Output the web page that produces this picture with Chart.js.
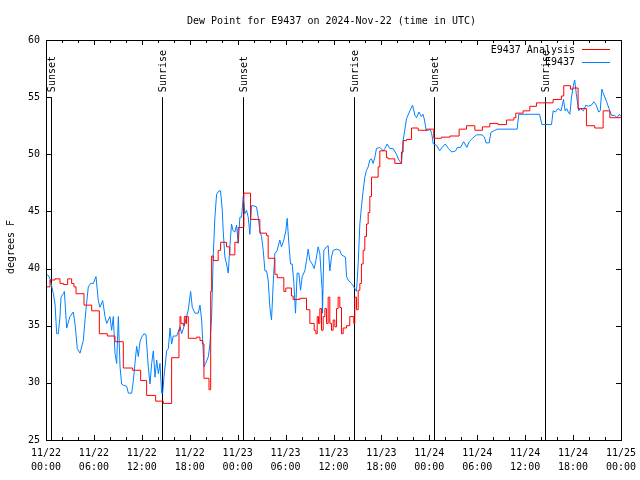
<!DOCTYPE html>
<html lang="en">
<head>
    <meta charset="UTF-8">
    <title>Dew Point for E9437</title>
    <script src="https://cdn.jsdelivr.net/npm/chart.js"></script>
    <style>
        body {
            margin: 0;
            background: #fff;
        }
        canvas {
            display: block;
        }
    </style>
</head>
<body>
    <canvas id="dewChart" width="640" height="480"></canvas>

    <script>
        // hours since 2024-11-22 00:00 UTC
        const obsHours = [0, 0.3, 0.5, 0.92, 1.13, 1.34, 1.54, 1.75, 1.88, 2.17, 2.3, 2.59, 3.0, 3.42, 3.63, 3.92, 4.26, 4.67, 5.0, 5.3,
            5.59, 5.93, 6.26, 6.55, 6.76, 7.1, 7.39, 7.6, 8.01, 8.22, 8.43, 8.64, 8.85, 9.06, 9.27, 9.47, 9.68, 10.1, 10.31, 10.73,
            10.94, 11.14, 11.35, 11.56, 11.77, 11.98, 12.27, 12.52, 12.81, 13.02, 13.23, 13.44, 13.65, 13.86, 14.07, 14.27, 14.48, 14.61, 14.77, 15.11,
            15.32, 15.53, 15.73, 15.94, 16.36, 16.78, 16.99, 17.4, 17.82, 18.11, 18.32, 18.66, 19.07, 19.28, 19.49, 19.78, 19.99, 20.33, 20.53, 20.74,
            20.95, 21.15, 21.36, 21.65, 21.86, 22.07, 22.19, 22.4, 22.61, 22.82, 23.02, 23.23, 23.44, 23.65, 23.86, 24.07, 24.28, 24.49, 24.69, 24.9,
            25.11, 25.32, 25.53, 25.74, 25.95, 26.36, 26.57, 26.78, 26.99, 27.2, 27.41, 27.61, 27.82, 28.03, 28.24, 28.45, 28.66, 28.95, 29.28, 29.49,
            29.78, 30.03, 30.2, 30.41, 30.62, 30.83, 31.04, 31.24, 31.45, 31.66, 31.87, 32.08, 32.41, 32.62, 32.83, 33.04, 33.33, 33.58, 33.79, 34.08,
            34.29, 34.58, 34.62, 34.79, 35.12, 35.33, 35.54, 35.75, 35.96, 36.38, 36.79, 37.0, 37.5, 37.63, 37.84, 38.25, 38.54, 38.88, 39.09, 39.3,
            39.5, 39.71, 39.92, 40.13, 40.34, 40.55, 40.76, 40.96, 41.17, 41.38, 41.8, 42.22, 42.43, 42.72, 43.05, 43.47, 43.89, 44.18, 44.51, 44.72,
            45.14, 45.56, 45.9, 46.2, 46.4, 46.7, 47.0, 47.2, 47.4, 47.6, 47.9, 48.1, 48.3, 48.5, 48.9, 49.3, 49.6, 50.0, 50.4, 50.8,
            51.3, 51.5, 51.9, 52.3, 52.7, 53.0, 53.4, 53.9, 54.6, 54.9, 55.1, 55.5, 55.7, 56.2, 56.5, 59.0, 59.2, 61.8, 62.1, 63.3,
            63.5, 63.8, 64.1, 64.5, 64.8, 65.0, 65.2, 65.4, 65.6, 65.8, 66.0, 66.2, 66.4, 66.7, 66.9, 67.3, 67.6, 67.9, 68.3, 68.6,
            68.9, 69.2, 69.4, 69.6, 69.8, 70.2, 70.6, 70.8, 71.2, 71.5, 71.8, 72.0];
        const obsDew = [39.5, 39.4, 39.1, 37.8, 36.9, 34.3, 34.3, 35.8, 37.5, 37.8, 38.0, 34.8, 35.8, 36.2, 35.2, 33.0, 32.6, 33.7, 36.4, 38.4,
            38.7, 38.7, 39.3, 37.2, 36.6, 37.2, 35.8, 35.2, 35.8, 34.6, 35.8, 32.6, 31.7, 35.8, 31.4, 29.9, 29.8, 29.7, 29.1, 29.1,
            30.2, 31.7, 33.2, 32.3, 33.6, 34.0, 34.3, 34.2, 31.4, 29.9, 31.7, 32.8, 30.5, 32.0, 30.8, 31.7, 29.1, 29.1, 30.5, 32.8,
            33.0, 34.8, 33.4, 34.1, 34.1, 34.9, 34.3, 35.2, 36.4, 38.0, 36.6, 36.1, 36.1, 36.8, 35.5, 31.4, 31.7, 32.3, 33.4, 35.8,
            41.3, 44.5, 46.5, 46.8, 46.8, 45.1, 43.3, 41.0, 40.4, 39.6, 41.9, 43.9, 43.3, 43.2, 43.8, 42.2, 44.5, 44.5, 46.3, 44.8,
            45.1, 44.5, 43.0, 45.5, 45.5, 45.4, 44.5, 43.3, 42.8, 41.6, 39.8, 39.8, 39.0, 36.6, 35.5, 38.7, 41.3, 41.6, 42.5, 41.9,
            42.5, 43.3, 44.4, 42.2, 40.4, 40.4, 38.7, 36.1, 39.6, 39.6, 38.1, 39.3, 39.8, 40.7, 41.7, 40.7, 40.4, 40.0, 40.7, 41.9,
            41.3, 38.1, 36.1, 41.6, 41.9, 42.0, 39.8, 41.0, 41.6, 41.7, 41.6, 41.2, 41.0, 39.3, 39.0, 38.7, 38.4, 38.0, 40.4, 43.9,
            45.4, 46.8, 48.0, 48.6, 48.9, 49.5, 49.6, 49.2, 49.7, 50.5, 50.6, 50.3, 50.5, 50.9, 50.5, 50.5, 50.0, 49.5, 49.2, 51.2,
            53.1, 53.8, 54.3, 53.4, 53.2, 53.7, 53.3, 53.5, 53.0, 52.1, 52.1, 52.2, 51.8, 50.9, 50.8, 50.3, 50.6, 50.9, 50.5, 50.2,
            50.3, 50.6, 50.6, 51.1, 50.6, 51.1, 51.4, 51.7, 51.7, 51.5, 51.0, 51.0, 51.9, 52.1, 52.2, 52.2, 53.5, 53.5, 52.6, 52.6,
            53.8, 53.7, 54.0, 53.8, 54.8, 53.8, 54.0, 53.7, 53.5, 55.0, 55.9, 56.5, 55.3, 53.8, 54.0, 53.8, 54.3, 54.2, 54.3, 54.6,
            54.3, 53.7, 53.8, 55.7, 55.3, 54.6, 53.8, 53.4, 53.4, 53.2, 53.5, 53.3];

        // analysis values, each held until the next hour in the list
        const anaHours = [0, 0.5, 1.13, 1.75, 2.17, 2.71, 3.21, 3.5, 3.76, 4.76, 5.72, 6.68, 7.68, 8.64, 9.68, 10.85, 11.85, 12.6, 13.73, 14.69,
            15.73, 16.65, 16.78, 16.9, 17.2, 17.32, 17.53, 17.61, 17.82, 18.86, 19.28, 19.62, 19.78, 20.41, 20.62, 20.74, 20.94, 21.56, 21.86, 22.61,
            23.02, 23.65, 24.07, 24.78, 25.61, 26.78, 27.61, 27.82, 28.66, 28.95, 29.78, 30.03, 30.74, 30.95, 31.79, 32.62, 33.04, 33.58, 33.79, 33.96,
            34.12, 34.29, 34.5, 34.71, 34.92, 35.12, 35.33, 35.54, 35.75, 35.96, 36.17, 36.38, 36.58, 36.79, 37.0, 37.21, 37.63, 38.04, 38.54, 38.67,
            38.88, 39.09, 39.3, 39.5, 39.71, 39.92, 40.13, 40.34, 40.55, 40.76, 41.59, 41.8, 42.63, 42.84, 43.68, 44.51, 44.72, 45.14, 45.77, 46.6,
            47.65, 48.56, 49.52, 50.57, 51.73, 52.65, 53.7, 54.65, 55.57, 56.6, 57.66, 58.58, 58.83, 59.74, 60.58, 61.41, 63.5, 64.54, 64.83, 65.67,
            66.0, 66.63, 67.67, 68.71, 69.76, 70.6, 72.0];
        const anaDew = [38.4, 39.0, 39.1, 38.7, 38.6, 39.1, 38.7, 38.4, 37.8, 36.8, 36.3, 34.3, 34.1, 33.6, 31.3, 31.1, 30.2, 28.9, 28.4, 28.2,
            32.2, 34.6, 35.8, 35.2, 35.0, 35.8, 35.2, 35.8, 33.9, 34.0, 33.7, 33.4, 30.4, 29.4, 38.0, 41.1, 40.7, 41.6, 42.3, 41.9,
            41.2, 42.3, 43.6, 46.6, 44.3, 43.1, 42.9, 40.9, 39.5, 39.2, 38.0, 38.3, 37.6, 37.3, 37.4, 36.4, 35.2, 34.6, 34.3, 35.8,
            35.2, 36.5, 34.6, 35.8, 36.5, 35.2, 37.5, 35.2, 34.6, 35.5, 34.9, 36.5, 37.5, 36.6, 34.3, 34.8, 35.0, 35.8, 35.2, 37.5,
            36.4, 38.1, 38.7, 40.4, 41.6, 42.8, 43.9, 44.9, 46.3, 48.0, 48.9, 50.3, 49.7, 49.6, 49.2, 50.2, 51.2, 51.3, 52.3, 52.1,
            52.2, 51.4, 51.5, 51.6, 52.2, 52.5, 52.1, 52.4, 52.7, 52.6, 53.0, 53.2, 53.6, 53.8, 54.2, 54.5, 54.8, 55.1, 56.0, 55.7,
            55.8, 54.0, 52.5, 52.3, 53.8, 53.2, 53.2];

        const dayLabels = ['11/22', '11/22', '11/22', '11/22', '11/23', '11/23', '11/23', '11/23', '11/24', '11/24', '11/24', '11/24', '11/25'];
        const timeLabels = ['00:00', '06:00', '12:00', '18:00'];

        const sunHours = [0.66, 14.56, 24.7, 38.6, 48.6, 62.5];
        const sunLabels = ['Sunset', 'Sunrise', 'Sunset', 'Sunrise', 'Sunset', 'Sunrise'];

        const FONT = '10px "DejaVu Sans Mono", monospace';

        // frame, inward ticks, sun lines, legend and texts in gnuplot style
        const gnuplotFrame = {
            id: 'gnuplotFrame',
            beforeDatasetsDraw(chart) {
                const ctx = chart.ctx;
                const x = chart.scales.x, y = chart.scales.y;
                const a = chart.chartArea;
                ctx.save();
                ctx.strokeStyle = '#000';
                ctx.lineWidth = 1;
                ctx.fillStyle = '#000';
                ctx.font = FONT;
                sunHours.forEach((h, i) => {
                    const px = Math.round(x.getPixelForValue(h)) + 0.5;
                    ctx.beginPath();
                    ctx.moveTo(px, y.getPixelForValue(55));
                    ctx.lineTo(px, a.bottom);
                    ctx.stroke();
                    ctx.save();
                    ctx.translate(px + 1, y.getPixelForValue(55) - 5);
                    ctx.rotate(-Math.PI / 2);
                    ctx.textAlign = 'left';
                    ctx.textBaseline = 'middle';
                    ctx.fillText(sunLabels[i], 0, 0);
                    ctx.restore();
                });
                ctx.restore();
            },
            afterDraw(chart) {
                const ctx = chart.ctx;
                const x = chart.scales.x, y = chart.scales.y;
                const a = chart.chartArea;
                ctx.save();
                ctx.strokeStyle = '#000';
                ctx.lineWidth = 1;
                ctx.beginPath();
                for (let h = 0; h <= 72; h += 2) {
                    const px = Math.round(x.getPixelForValue(h)) + 0.5;
                    const len = h % 6 === 0 ? 5 : 3;
                    ctx.moveTo(px, a.bottom); ctx.lineTo(px, a.bottom - len);
                    ctx.moveTo(px, a.top); ctx.lineTo(px, a.top + len);
                }
                for (let v = 25; v <= 60; v += 5) {
                    const py = Math.round(y.getPixelForValue(v)) + 0.5;
                    ctx.moveTo(a.left, py); ctx.lineTo(a.left + 5, py);
                    ctx.moveTo(a.right, py); ctx.lineTo(a.right - 5, py);
                }
                ctx.stroke();
                ctx.strokeRect(Math.round(a.left) + 0.5, Math.round(a.top) + 0.5,
                    Math.round(a.right - a.left), Math.round(a.bottom - a.top));

                ctx.fillStyle = '#000';
                ctx.font = FONT;
                ctx.textBaseline = 'middle';
                ctx.textAlign = 'center';
                ctx.fillText('Dew Point for E9437 on 2024-Nov-22 (time in UTC)', (a.left + a.right) / 2 - 2, 21);

                ctx.save();
                ctx.translate(11, 247);
                ctx.rotate(-Math.PI / 2);
                ctx.fillText('degrees F', 0, 0);
                ctx.restore();

                // key
                ctx.textAlign = 'right';
                chart.data.datasets.forEach((ds, i) => {
                    const ly = 50 + i * 12.5;
                    ctx.fillStyle = '#000';
                    ctx.fillText(ds.label, 575, ly);
                    ctx.strokeStyle = ds.borderColor;
                    ctx.beginPath();
                    ctx.moveTo(582, Math.round(ly) - 0.5);
                    ctx.lineTo(610, Math.round(ly) - 0.5);
                    ctx.stroke();
                });
                ctx.restore();
            }
        };

        const ctx = document.getElementById('dewChart').getContext('2d');
        const dewChart = new Chart(ctx, {
            type: 'line',
            data: {
                datasets: [{
                    label: 'E9437 Analysis',
                    data: anaHours.map((h, i) => ({ x: h, y: anaDew[i] })),
                    borderColor: '#ff0000',
                    borderWidth: 1,
                    pointRadius: 0,
                    stepped: true,
                    fill: false
                }, {
                    label: 'E9437',
                    data: obsHours.map((h, i) => ({ x: h, y: obsDew[i] })),
                    borderColor: '#0080ff',
                    borderWidth: 1,
                    pointRadius: 0,
                    tension: 0,
                    fill: false
                }]
            },
            options: {
                responsive: false,
                animation: false,
                layout: { padding: { top: 40, right: 19, left: 0, bottom: 0 } },
                plugins: {
                    legend: { display: false },
                    title: { display: false },
                    tooltip: { enabled: false }
                },
                scales: {
                    x: {
                        type: 'linear',
                        min: 0,
                        max: 72,
                        grid: { display: false, drawTicks: false },
                        border: { display: false },
                        afterFit: s => { s.height = 40; s.paddingLeft = 0; s.paddingRight = 0; },
                        ticks: {
                            stepSize: 6,
                            autoSkip: false,
                            maxRotation: 0,
                            padding: 6,
                            color: '#000',
                            font: { family: '"DejaVu Sans Mono", monospace', size: 10, lineHeight: 1.4 },
                            callback: v => [dayLabels[v / 6], timeLabels[(v / 6) % 4]]
                        }
                    },
                    y: {
                        min: 25,
                        max: 60,
                        grid: { display: false, drawTicks: false },
                        border: { display: false },
                        afterFit: s => { s.width = 46; s.paddingTop = 0; s.paddingBottom = 0; },
                        ticks: {
                            stepSize: 5,
                            padding: 6,
                            color: '#000',
                            font: { family: '"DejaVu Sans Mono", monospace', size: 10 }
                        }
                    }
                }
            },
            plugins: [gnuplotFrame]
        });
    </script>
</body>
</html>
